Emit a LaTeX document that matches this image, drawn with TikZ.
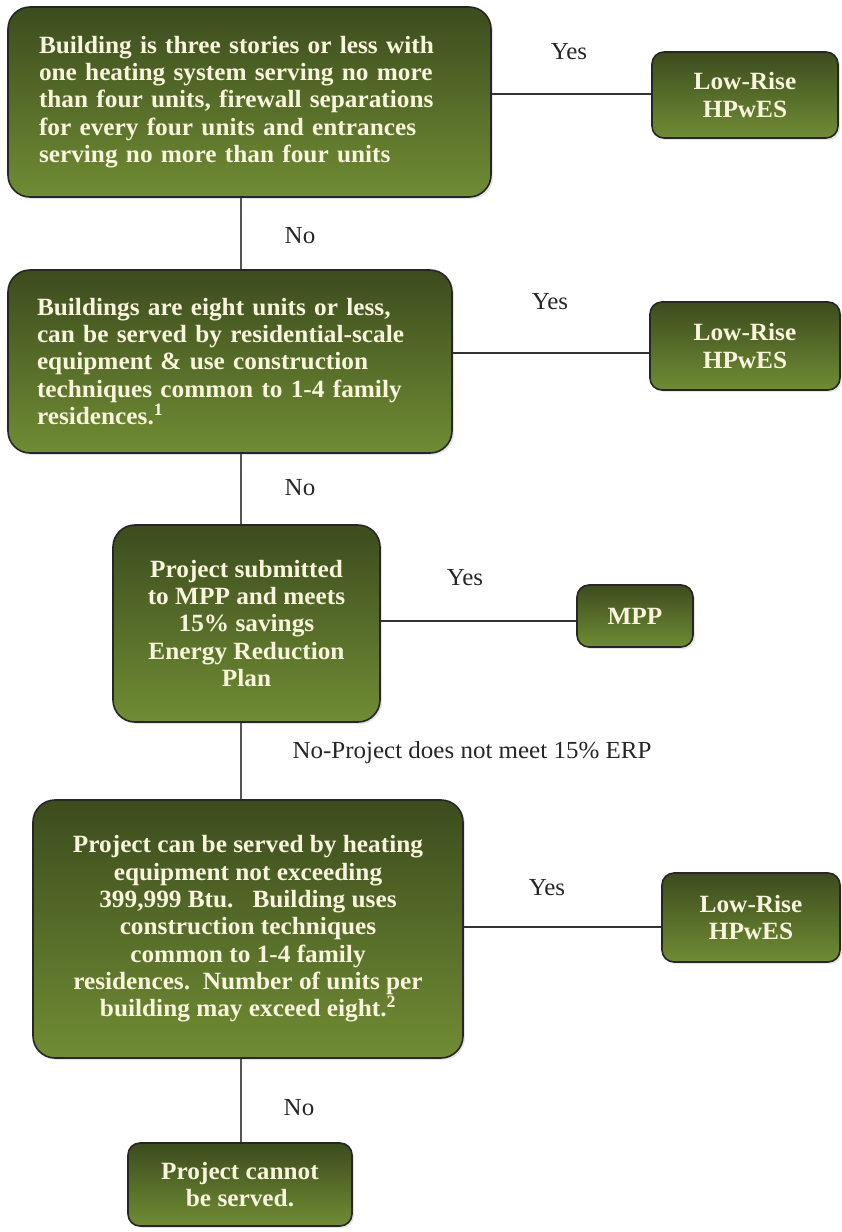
\documentclass[tikz,border=0pt]{standalone}
\usepackage{fontspec}
\setmainfont[FakeStretch=1.02]{Liberation Serif}
\usetikzlibrary{shadows}
\definecolor{boxtop}{RGB}{60,76,30}
\definecolor{boxbot}{RGB}{112,140,52}
\definecolor{boxtext}{RGB}{248,245,220}
\definecolor{linegray}{RGB}{85,85,85}
\tikzset{
  box/.style={draw=black!85, line width=1.6pt, rounded corners=22pt,
    top color=boxtop, bottom color=boxbot, text=boxtext,
    font=\fontsize{24.8}{27.3}\selectfont\bfseries, inner sep=0pt,
    drop shadow={opacity=0.2, shadow xshift=2pt, shadow yshift=-2pt}},
  smallbox/.style={box, rounded corners=12pt},
  conn/.style={draw=linegray, line width=1.3pt},
  lbl/.style={font=\fontsize{24.5}{28}\selectfont, text=black!85}
}
\begin{document}
\begin{tikzpicture}[x=1pt,y=-1pt]
\useasboundingbox (0,0) rectangle (841,1232);
\fill[white] (0,0) rectangle (841,1232);
\coordinate (spine) at (241,0);

\node[box, minimum width=483pt, minimum height=190pt, text width=421pt, align=left] (b1) at (249.5,102)
 {Building is three stories or less with\\one heating system serving no more\\than four units, firewall separations\\for every four units and entrances\\serving no more than four units};
\node[smallbox, minimum width=186pt, minimum height=86pt, align=center] (lr1) at (745,95) {Low-Rise\\HPwES};

\node[box, minimum width=444pt, minimum height=183pt, text width=386pt, align=left] (b2) at (230,361.5)
 {Buildings are eight units or less,\\can be served by residential-scale\\equipment \& use construction\\techniques common to 1-4 family\\residences.\textsuperscript{1}};
\node[smallbox, minimum width=190pt, minimum height=88pt, align=center] (lr2) at (745,346) {Low-Rise\\HPwES};

\node[box, minimum width=267pt, minimum height=197pt, align=center] (b3) at (246.5,623.5)
 {Project submitted\\to MPP and meets\\15\% savings\\Energy Reduction\\Plan};
\node[smallbox, minimum width=116pt, minimum height=62pt, align=center] (mpp) at (635,616) {MPP};

\node[box, minimum width=430pt, minimum height=258pt, align=center] (b4) at (248,929)
 {Project can be served by heating\\equipment not exceeding\\399,999 Btu.\ \ \ Building uses\\construction techniques\\common to 1-4 family\\residences.\ \ Number of units per\\building may exceed eight.\textsuperscript{2}};
\node[smallbox, minimum width=178pt, minimum height=89pt, align=center] (lr3) at (751,917.5) {Low-Rise\\HPwES};

\node[smallbox, minimum width=224pt, minimum height=83pt, align=center] (b5) at (240,1184.5)
 {Project cannot\\be served.};

% connectors
\draw[conn] (b1.south -| spine) -- (b2.north -| spine);
\draw[conn] (b2.south -| spine) -- (b3.north -| spine);
\draw[conn] (b3.south -| spine) -- (b4.north -| spine);
\draw[conn] (b4.south -| spine) -- (b5.north -| spine);
\draw[conn, draw=black!80] (b1.east |- 0,94) -- (lr1.west |- 0,94);
\draw[conn, draw=black!80] (b2.east |- 0,353) -- (lr2.west |- 0,353);
\draw[conn, draw=black!80] (b3.east |- 0,621) -- (mpp.west |- 0,621);
\draw[conn, draw=black!80] (b4.east |- 0,927) -- (lr3.west |- 0,927);

% labels
\node[lbl] (y1) at (569,52) {Yes};
\node[lbl] (y2) at (550,302) {Yes};
\node[lbl] (y3) at (465,578) {Yes};
\node[lbl] (y4) at (547,888) {Yes};
\node[lbl] (n1) at (300,236) {No};
\node[lbl] (n2) at (300,488) {No};
\node[lbl] (n3) at (472,753) {No-Project does not meet 15\% ERP};
\node[lbl] (n4) at (299,1108) {No};
\end{tikzpicture}
\end{document}
